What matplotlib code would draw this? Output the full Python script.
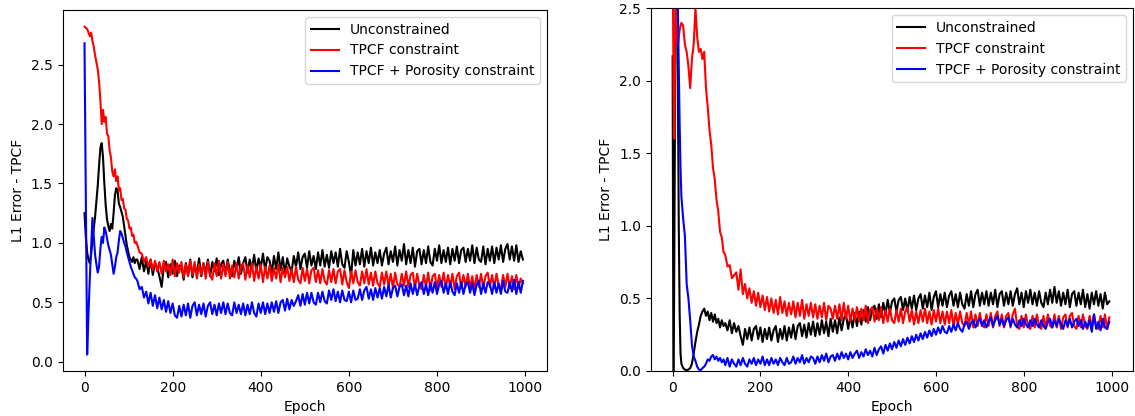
import matplotlib
matplotlib.use("Agg")
import matplotlib.pyplot as plt

# ---------------- data ----------------
labels = ["Unconstrained", "TPCF constraint", "TPCF + Porosity constraint"]
colors = ["k", "r", "b"]

# Left panel epochs: every 3 epochs to 117, then every 5 epochs
left_epochs = list(range(0, 120, 3)) + list(range(120, 1000, 5))

left_unc = [1.25, 1.05, 0.92, 0.86, 0.83, 0.90, 1.02, 1.12, 1.22, 1.35, 1.48, 1.65, 1.80, 1.84, 1.72, 1.50,
            1.32, 1.20, 1.14, 1.10, 1.16, 1.12, 1.25, 1.40, 1.46, 1.44, 1.33, 1.30, 1.26, 1.22, 1.14, 1.06,
            0.98, 0.93, 0.88, 0.86, 0.84, 0.88, 0.83, 0.86,
            0.86, 0.78, 0.88, 0.76, 0.85, 0.74, 0.86, 0.73, 0.83, 0.79,
            0.72, 0.63, 0.80, 0.84, 0.71, 0.82, 0.74, 0.85, 0.72, 0.81,
            0.80, 0.69, 0.83, 0.73, 0.86, 0.71, 0.81, 0.74, 0.87, 0.72,
            0.83, 0.75, 0.86, 0.72, 0.84, 0.76, 0.87, 0.73, 0.82, 0.85,
            0.74, 0.86, 0.76, 0.72, 0.85, 0.77, 0.88, 0.74, 0.83, 0.88,
            0.75, 0.86, 0.78, 0.90, 0.76, 0.87, 0.79, 0.91, 0.77, 0.88,
            0.85, 0.75, 0.89, 0.78, 0.92, 0.77, 0.88, 0.74, 0.87, 0.80,
            0.76, 0.89, 0.80, 0.92, 0.78, 0.88, 0.91, 0.79, 0.93, 0.81,
            0.89, 0.78, 0.92, 0.81, 0.94, 0.80, 0.90, 0.79, 0.93, 0.83,
            0.92, 0.80, 0.95, 0.82, 0.79, 0.93, 0.84, 0.72, 0.94, 0.81,
            0.92, 0.82, 0.95, 0.80, 0.93, 0.83, 0.96, 0.81, 0.92, 0.83,
            0.94, 0.81, 0.91, 0.96, 0.82, 0.93, 0.84, 0.97, 0.81, 0.94,
            0.85, 0.99, 0.82, 0.94, 0.83, 0.96, 0.80, 0.93, 0.95, 0.82,
            0.94, 0.83, 0.97, 0.84, 0.81, 0.95, 0.85, 0.98, 0.83, 0.94,
            0.84, 0.96, 0.82, 0.95, 0.85, 0.97, 0.83, 0.94, 0.96, 0.84,
            0.95, 0.85, 0.98, 0.83, 0.96, 0.86, 0.84, 0.97, 0.82, 0.95,
            0.85, 0.97, 0.83, 0.96, 0.86, 0.98, 0.84, 0.95, 0.99, 0.86,
            0.97, 0.85, 0.98, 0.84, 0.93, 0.86]

left_tpcf = [2.82, 2.81, 2.80, 2.77, 2.74, 2.77, 2.70, 2.65, 2.58, 2.52, 2.46, 2.36, 2.20, 2.00, 2.12, 2.02,
             2.06, 1.92, 1.90, 1.78, 1.72, 1.60, 1.56, 1.62, 1.52, 1.56, 1.44, 1.46, 1.36, 1.37, 1.29, 1.28,
             1.20, 1.19, 1.12, 1.13, 1.06, 1.07, 1.00, 1.01,
             0.98, 0.92, 0.91, 0.84, 0.88, 0.80, 0.86, 0.77, 0.85, 0.76,
             0.84, 0.74, 0.85, 0.76, 0.82, 0.73, 0.86, 0.72, 0.83, 0.75,
             0.84, 0.71, 0.82, 0.72, 0.85, 0.73, 0.84, 0.70, 0.82, 0.73,
             0.83, 0.70, 0.84, 0.73, 0.69, 0.83, 0.72, 0.85, 0.70, 0.82,
             0.72, 0.84, 0.70, 0.81, 0.71, 0.83, 0.70, 0.80, 0.83, 0.69,
             0.81, 0.71, 0.83, 0.68, 0.80, 0.70, 0.82, 0.67, 0.80, 0.70,
             0.81, 0.68, 0.79, 0.70, 0.82, 0.67, 0.79, 0.71, 0.80, 0.68,
             0.78, 0.67, 0.80, 0.69, 0.66, 0.79, 0.68, 0.78, 0.66, 0.77,
             0.79, 0.67, 0.77, 0.66, 0.78, 0.68, 0.65, 0.77, 0.67, 0.78,
             0.66, 0.76, 0.78, 0.65, 0.77, 0.67, 0.62, 0.76, 0.66, 0.77,
             0.67, 0.64, 0.76, 0.66, 0.78, 0.65, 0.75, 0.64, 0.76, 0.66,
             0.63, 0.75, 0.65, 0.76, 0.64, 0.74, 0.62, 0.75, 0.65, 0.63,
             0.74, 0.64, 0.76, 0.63, 0.73, 0.75, 0.62, 0.74, 0.64, 0.61,
             0.73, 0.63, 0.75, 0.60, 0.72, 0.74, 0.62, 0.73, 0.63, 0.75,
             0.62, 0.73, 0.63, 0.74, 0.61, 0.72, 0.75, 0.62, 0.73, 0.63,
             0.74, 0.62, 0.72, 0.61, 0.73, 0.63, 0.74, 0.62, 0.72, 0.75,
             0.63, 0.73, 0.62, 0.74, 0.64, 0.61, 0.73, 0.63, 0.74, 0.62,
             0.72, 0.61, 0.73, 0.62, 0.70, 0.66]

left_por = [2.68, 1.37, 0.06, 0.40, 0.70, 0.95, 1.21, 1.05, 0.90, 0.82, 0.75, 0.80, 0.95, 1.05, 1.00, 1.13,
            1.10, 1.04, 0.98, 0.94, 0.90, 0.82, 0.74, 0.80, 0.88, 0.92, 1.02, 1.10, 1.08, 1.04, 1.00, 0.97,
            0.92, 0.88, 0.84, 0.80, 0.77, 0.74, 0.71, 0.70,
            0.68, 0.61, 0.63, 0.54, 0.59, 0.49, 0.58, 0.47, 0.56, 0.45,
            0.54, 0.44, 0.52, 0.42, 0.51, 0.41, 0.49, 0.39, 0.37, 0.47,
            0.38, 0.48, 0.39, 0.49, 0.37, 0.47, 0.50, 0.39, 0.48, 0.40,
            0.49, 0.38, 0.47, 0.50, 0.40, 0.48, 0.39, 0.49, 0.41, 0.50,
            0.40, 0.49, 0.41, 0.39, 0.50, 0.41, 0.48, 0.40, 0.49, 0.39,
            0.48, 0.40, 0.50, 0.41, 0.38, 0.49, 0.41, 0.50, 0.40, 0.49,
            0.41, 0.50, 0.42, 0.51, 0.41, 0.50, 0.52, 0.43, 0.53, 0.44,
            0.52, 0.47, 0.51, 0.56, 0.47, 0.57, 0.48, 0.58, 0.49, 0.58,
            0.50, 0.48, 0.58, 0.50, 0.59, 0.51, 0.49, 0.60, 0.52, 0.61,
            0.51, 0.59, 0.50, 0.60, 0.52, 0.51, 0.59, 0.50, 0.60, 0.52,
            0.53, 0.61, 0.52, 0.60, 0.63, 0.53, 0.61, 0.52, 0.62, 0.54,
            0.62, 0.53, 0.63, 0.55, 0.65, 0.54, 0.62, 0.64, 0.55, 0.63,
            0.65, 0.56, 0.64, 0.55, 0.66, 0.57, 0.65, 0.56, 0.64, 0.67,
            0.57, 0.65, 0.56, 0.66, 0.58, 0.67, 0.57, 0.65, 0.68, 0.58,
            0.66, 0.57, 0.67, 0.59, 0.56, 0.66, 0.58, 0.67, 0.57, 0.65,
            0.67, 0.58, 0.66, 0.56, 0.65, 0.68, 0.57, 0.66, 0.58, 0.67,
            0.65, 0.57, 0.67, 0.58, 0.66, 0.57, 0.68, 0.59, 0.58, 0.67,
            0.59, 0.69, 0.57, 0.67, 0.58, 0.68]

# Right panel epochs: every 2 to 18, every 4 to 116, then every 5 epochs
right_epochs = list(range(0, 20, 2)) + list(range(20, 120, 4)) + list(range(120, 1000, 5))

right_unc = [2.17, -0.30, 0.90, 2.20, 3.20, 3.00, 2.00, 1.00, 0.40, 0.12,
             0.05, 0.02, 0.01, 0.005, 0.01, 0.02, 0.05, 0.12, 0.20, 0.27, 0.32, 0.38, 0.41, 0.43, 0.38,
             0.41, 0.35, 0.40, 0.34, 0.39, 0.33, 0.36, 0.30, 0.35, 0.31,
             0.33, 0.28, 0.35, 0.26, 0.33, 0.27, 0.31, 0.24, 0.18, 0.29,
             0.22, 0.30, 0.21, 0.29, 0.31, 0.22, 0.30, 0.20, 0.29, 0.22,
             0.30, 0.21, 0.28, 0.31, 0.20, 0.29, 0.22, 0.31, 0.21, 0.30,
             0.23, 0.32, 0.22, 0.31, 0.33, 0.24, 0.32, 0.23, 0.33, 0.25,
             0.34, 0.24, 0.33, 0.25, 0.35, 0.26, 0.34, 0.24, 0.36, 0.27,
             0.35, 0.26, 0.37, 0.28, 0.36, 0.39, 0.29, 0.38, 0.30, 0.40,
             0.31, 0.41, 0.32, 0.42, 0.34, 0.44, 0.35, 0.43, 0.45, 0.36,
             0.46, 0.37, 0.47, 0.39, 0.49, 0.40, 0.48, 0.50, 0.41, 0.49,
             0.51, 0.42, 0.50, 0.41, 0.51, 0.43, 0.52, 0.42, 0.50, 0.53,
             0.43, 0.52, 0.44, 0.54, 0.42, 0.51, 0.55, 0.44, 0.53, 0.45,
             0.54, 0.44, 0.52, 0.55, 0.45, 0.53, 0.44, 0.54, 0.46, 0.43,
             0.53, 0.45, 0.55, 0.44, 0.53, 0.56, 0.45, 0.54, 0.46, 0.55,
             0.45, 0.54, 0.46, 0.56, 0.44, 0.53, 0.55, 0.45, 0.54, 0.46,
             0.55, 0.45, 0.53, 0.57, 0.46, 0.54, 0.44, 0.55, 0.47, 0.56,
             0.46, 0.54, 0.45, 0.55, 0.47, 0.44, 0.54, 0.46, 0.56, 0.47,
             0.58, 0.47, 0.55, 0.45, 0.54, 0.46, 0.56, 0.44, 0.53, 0.55,
             0.45, 0.54, 0.46, 0.56, 0.44, 0.53, 0.43, 0.54, 0.46, 0.55,
             0.45, 0.53, 0.43, 0.54, 0.46, 0.48]

right_tpcf = [2.90, 2.00, 1.60, 2.30, 2.70, 2.30, 2.25, 2.30, 2.35, 2.38,
              2.40, 2.38, 2.25, 2.20, 2.10, 1.95, 2.15, 2.25, 2.50, 2.30, 2.20, 2.22, 2.15, 2.20, 1.95,
              1.82, 1.66, 1.56, 1.40, 1.32, 1.18, 1.10, 0.96, 0.92, 0.82,
              0.80, 0.72, 0.73, 0.64, 0.66, 0.68, 0.56, 0.70, 0.53, 0.60,
              0.50, 0.57, 0.47, 0.55, 0.45, 0.54, 0.44, 0.52, 0.42, 0.51,
              0.41, 0.50, 0.40, 0.49, 0.39, 0.51, 0.40, 0.48, 0.38, 0.47,
              0.39, 0.48, 0.37, 0.47, 0.38, 0.49, 0.36, 0.46, 0.38, 0.47,
              0.37, 0.46, 0.36, 0.45, 0.37, 0.47, 0.35, 0.45, 0.43, 0.36,
              0.45, 0.36, 0.46, 0.35, 0.47, 0.36, 0.45, 0.34, 0.43, 0.35,
              0.44, 0.34, 0.43, 0.35, 0.45, 0.33, 0.42, 0.44, 0.34, 0.43,
              0.35, 0.44, 0.33, 0.42, 0.34, 0.43, 0.35, 0.33, 0.42, 0.34,
              0.43, 0.33, 0.41, 0.44, 0.34, 0.42, 0.32, 0.41, 0.33, 0.42,
              0.34, 0.43, 0.33, 0.41, 0.32, 0.42, 0.34, 0.43, 0.33, 0.41,
              0.32, 0.41, 0.33, 0.42, 0.31, 0.40, 0.32, 0.41, 0.33, 0.31,
              0.40, 0.32, 0.41, 0.30, 0.39, 0.31, 0.40, 0.32, 0.30, 0.39,
              0.31, 0.40, 0.30, 0.38, 0.41, 0.31, 0.39, 0.30, 0.38, 0.40,
              0.30, 0.39, 0.43, 0.31, 0.29, 0.38, 0.30, 0.39, 0.31, 0.29,
              0.38, 0.30, 0.39, 0.31, 0.29, 0.38, 0.30, 0.39, 0.31, 0.30,
              0.39, 0.30, 0.38, 0.29, 0.37, 0.39, 0.30, 0.38, 0.40, 0.31,
              0.29, 0.38, 0.30, 0.39, 0.31, 0.29, 0.38, 0.30, 0.39, 0.31,
              0.29, 0.38, 0.30, 0.39, 0.29, 0.37]

right_por = [2.90, 2.95, 3.00, 3.00, 2.95, 2.80, 2.50, 2.10, 1.70, 1.40,
             1.20, 1.05, 0.93, 0.60, 0.50, 0.35, 0.18, 0.10, 0.07, 0.03, 0.01, 0.005, 0.02, 0.03, 0.05,
             0.08, 0.07, 0.10, 0.11, 0.08, 0.10, 0.07, 0.09, 0.06, 0.08,
             0.04, 0.09, 0.03, 0.08, 0.05, 0.03, 0.08, 0.04, 0.09, 0.05,
             0.03, 0.08, 0.05, 0.09, 0.04, 0.08, 0.05, 0.10, 0.04, 0.08,
             0.04, 0.09, 0.05, 0.08, 0.04, 0.09, 0.06, 0.04, 0.09, 0.05,
             0.06, 0.10, 0.05, 0.09, 0.06, 0.11, 0.05, 0.09, 0.06, 0.10,
             0.09, 0.05, 0.10, 0.06, 0.11, 0.07, 0.12, 0.06, 0.10, 0.11,
             0.07, 0.12, 0.08, 0.13, 0.09, 0.12, 0.08, 0.13, 0.09, 0.12,
             0.14, 0.09, 0.13, 0.10, 0.15, 0.11, 0.14, 0.10, 0.16, 0.11,
             0.15, 0.17, 0.12, 0.18, 0.14, 0.19, 0.15, 0.20, 0.16, 0.21,
             0.17, 0.22, 0.18, 0.23, 0.19, 0.24, 0.20, 0.25, 0.21, 0.26,
             0.22, 0.27, 0.23, 0.28, 0.24, 0.29, 0.25, 0.30, 0.26, 0.31,
             0.27, 0.26, 0.31, 0.27, 0.32, 0.28, 0.33, 0.29, 0.27, 0.32,
             0.34, 0.29, 0.33, 0.35, 0.30, 0.34, 0.36, 0.31, 0.35, 0.30,
             0.34, 0.37, 0.31, 0.35, 0.38, 0.32, 0.36, 0.31, 0.35, 0.37,
             0.31, 0.36, 0.32, 0.30, 0.35, 0.31, 0.36, 0.32, 0.30, 0.35,
             0.31, 0.36, 0.32, 0.30, 0.35, 0.31, 0.29, 0.34, 0.36, 0.30,
             0.35, 0.31, 0.36, 0.32, 0.29, 0.35, 0.31, 0.36, 0.30, 0.34,
             0.36, 0.31, 0.35, 0.29, 0.34, 0.30, 0.35, 0.27, 0.39, 0.29,
             0.34, 0.28, 0.36, 0.30, 0.29, 0.34]

# ---------------- plot ----------------
fig = plt.figure(figsize=(11.35, 4.16), dpi=100)
W, H = 1135.0, 416.0
ax1 = fig.add_axes([62.5 / W, 1 - 371 / H, 484.2 / W, 361 / H])
ax2 = fig.add_axes([650.7 / W, 1 - 371 / H, 482.3 / W, 362.7 / H])

for ax, ep, series in [(ax1, left_epochs, [left_unc, left_tpcf, left_por]),
                       (ax2, right_epochs, [right_unc, right_tpcf, right_por])]:
    for vals, c, lab in zip(series, colors, labels):
        ax.plot(ep, vals, color=c, label=lab, linewidth=1.5)
    ax.set_xlabel("Epoch", fontsize=10)
    ax.set_ylabel("L1 Error - TPCF", fontsize=10)
    ax.legend(loc="upper right", fontsize=10)
    ax.set_xlim(-49.95, 1048.95)
    ax.set_xticks([0, 200, 400, 600, 800, 1000])

ax1.set_ylim(-0.078, 2.96)
ax1.set_yticks([0.0, 0.5, 1.0, 1.5, 2.0, 2.5])
ax2.set_ylim(0, 2.5)
ax2.set_yticks([0.0, 0.5, 1.0, 1.5, 2.0, 2.5])

fig.savefig("out.png", dpi=100)
